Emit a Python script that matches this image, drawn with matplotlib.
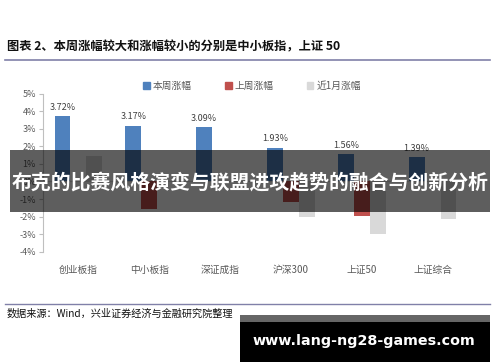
import matplotlib
matplotlib.use("Agg")
import matplotlib.pyplot as plt
import numpy as np
from matplotlib.patches import Rectangle
from matplotlib.lines import Line2D

plt.rcParams['font.family'] = ['Noto Sans CJK SC', 'DejaVu Sans']

categories = ["创业板指", "中小板指", "深证成指", "沪深300", "上证50", "上证综合"]
series_names = ["本周涨幅", "上周涨幅", "近1月涨幅"]
this_week = [3.72, 3.17, 3.09, 1.93, 1.56, 1.39]
last_week = [0.0, -1.57, 0.0, -1.19, -1.96, 0.0]
last_month = [1.46, 0.0, 0.0, -2.02, -2.99, -2.14]
colors = ["#4F81BD", "#C0504D", "#D9D9D9"]
yticks = [5, 4, 3, 2, 1, 0, -1, -2, -3, -4]

title = "图表 2、本周涨幅较大和涨幅较小的分别是中小板指，上证 50"
source = "数据来源：Wind，兴业证券经济与金融研究院整理"
banner = "布克的比赛风格演变与联盟进攻趋势的融合与创新分析"
watermark = "www.lang-ng28-games.com"

W, H = 500, 362
fig = plt.figure(figsize=(W / 100, H / 100), dpi=100)
fig.patch.set_facecolor("white")

def fx(px):
    return px / W

def fy(py):
    return 1 - py / H

ax = fig.add_axes([fx(43), fy(251.7), fx(468) - fx(43), fy(93.7) - fy(251.7)])
x = np.arange(len(categories))
bw = 0.225
for i, (vals, c) in enumerate(zip([this_week, last_week, last_month], colors)):
    ax.bar(x + (i - 1) * bw, vals, width=bw, color=c, zorder=2)

for xi, v in zip(x, this_week):
    ax.text(xi - bw, v + 0.25, f"{v:.2f}%", ha="center", va="bottom",
            fontsize=6.5, color="#404040")

ax.set_ylim(-4, 5)
ax.set_xlim(-0.5, len(categories) - 0.5)
ax.set_yticks(yticks)
ax.set_yticklabels([f"{t}%" for t in yticks], fontsize=6.5, color="#595959")
ax.set_xticks(x)
ax.set_xticklabels(categories, fontsize=7, color="#595959")
for lbl in ax.get_xticklabels():
    lbl.set_verticalalignment("center")
ax.tick_params(axis="x", length=0, pad=13)
ax.tick_params(axis="y", length=3, color="#BFBFBF", width=0.8, pad=2)
for s in ["top", "right", "bottom"]:
    ax.spines[s].set_visible(False)
ax.spines["left"].set_color("#BFBFBF")
ax.axhline(0, color="#D9D9D9", lw=0.8, zorder=1)
ax.set_facecolor("none")

# legend
handles = [Rectangle((0, 0), 1, 1, color=c) for c in colors]
fig.legend(handles, series_names, loc="center", bbox_to_anchor=(fx(252), fy(86)),
           ncol=3, frameon=False, fontsize=7, handlelength=0.7, handleheight=0.7,
           handletextpad=0.3, columnspacing=3.4, labelcolor="#595959")

# title and lines
fig.text(fx(7), fy(47), title, fontsize=8.8, fontweight="bold", ha="left", va="center", color="#111111")
fig.add_artist(Line2D([fx(5), fx(490)], [fy(59.5), fy(59.5)], color="#8080A8", lw=1.2))
fig.add_artist(Line2D([fx(5), fx(490)], [fy(304), fy(304)], color="#8080A8", lw=1.0))
fig.text(fx(7), fy(314), source, fontsize=7.3, ha="left", va="center", color="#111111")

# banner overlay
fig.add_artist(Rectangle((fx(10), fy(212)), fx(490) - fx(10), fy(150) - fy(212),
                         transform=fig.transFigure, facecolor="black", alpha=0.63,
                         edgecolor="none", zorder=5))
fig.text(fx(250), fy(183), banner, fontsize=14.3, fontweight="bold", color="white",
         ha="center", va="center", zorder=6)

# watermark box
fig.add_artist(Rectangle((fx(240), fy(362)), fx(490) - fx(240), fy(315) - fy(362),
                         transform=fig.transFigure, facecolor="black", edgecolor="none", zorder=5))
fig.add_artist(Rectangle((fx(240), fy(322)), fx(490) - fx(240), fy(315) - fy(322),
                         transform=fig.transFigure, facecolor="#666666", edgecolor="none", zorder=6))
fig.text(fx(364), fy(341), watermark, fontsize=10.3, fontweight="bold", color="white",
         ha="center", va="center", zorder=7, family=["DejaVu Sans"])

fig.savefig("out.png", dpi=100)
